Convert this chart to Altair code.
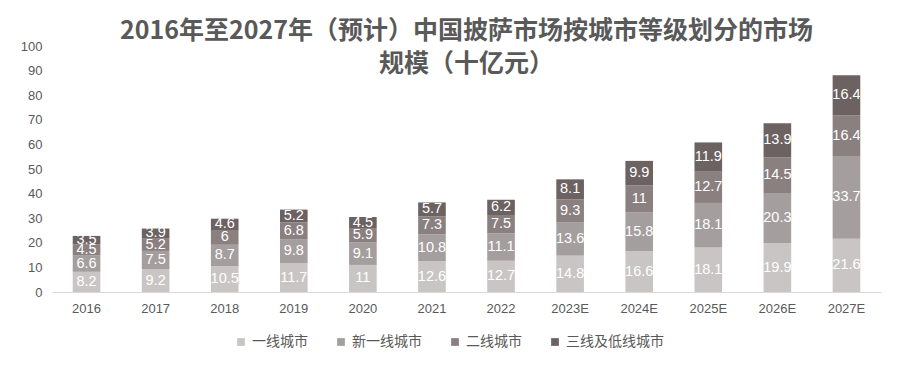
import altair as alt
import pandas as pd

years = ["2016", "2017", "2018", "2019", "2020", "2021", "2022",
         "2023E", "2024E", "2025E", "2026E", "2027E"]
tiers = ["一线城市", "新一线城市", "二线城市", "三线及低线城市"]
tier1 = [8.2, 9.2, 10.5, 11.7, 11, 12.6, 12.7, 14.8, 16.6, 18.1, 19.9, 21.6]
newtier1 = [6.6, 7.5, 8.7, 9.8, 9.1, 10.8, 11.1, 13.6, 15.8, 18.1, 20.3, 33.7]
tier2 = [4.5, 5.2, 6, 6.8, 5.9, 7.3, 7.5, 9.3, 11, 12.7, 14.5, 16.4]
tier3 = [3.5, 3.9, 4.6, 5.2, 4.5, 5.7, 6.2, 8.1, 9.9, 11.9, 13.9, 16.4]
colors = ["#c9c5c5", "#a59e9e", "#8b8080", "#6c6262"]

rows = []
for series, vals in zip(tiers, [tier1, newtier1, tier2, tier3]):
    for y, v in zip(years, vals):
        rows.append({"year": y, "tier": series, "value": v, "ord": tiers.index(series)})
df = pd.DataFrame(rows)

base = alt.Chart(df).transform_stack(
    stack="value", groupby=["year"], as_=["y0", "y1"],
    sort=[alt.SortField("ord", order="ascending")]
).transform_calculate(mid="(datum.y0 + datum.y1) / 2")

yaxis = alt.Axis(values=list(range(0, 101, 10)), grid=False, domain=False,
                 ticks=False, labelFontSize=13, labelColor="#595959",
                 labelFont="Liberation Sans", labelPadding=10,
                 labelOverlap=False)
yscale = alt.Scale(domain=[0, 100])

xenc = alt.X("year:N", sort=years, title=None,
             scale=alt.Scale(paddingInner=0.6, paddingOuter=0.3),
             axis=alt.Axis(labelAngle=0, labelFontSize=13, labelColor="#595959",
                           labelFont="Liberation Sans", domainColor="#d9d9d9",
                           ticks=False, labelPadding=10))

bars = base.mark_bar().encode(
    x=xenc,
    y=alt.Y("y0:Q", title=None, scale=yscale, axis=yaxis),
    y2="y1:Q",
    color=alt.Color("tier:N", sort=tiers,
                    scale=alt.Scale(domain=tiers, range=colors),
                    legend=alt.Legend(title=None, orient="none", direction="horizontal",
                                      legendX=182, legendY=289,
                                      symbolType="square", symbolSize=60,
                                      labelFontSize=14, labelColor="#595959",
                                      labelFont="Noto Sans CJK SC", columnPadding=26,
                                      symbolStrokeWidth=0)),
)

labels = base.mark_text(color="white", fontSize=14.5, font="Liberation Sans").encode(
    x=alt.X("year:N", sort=years),
    y=alt.Y("mid:Q", title=None, scale=yscale, axis=yaxis),
    text=alt.Text("value:Q"),
)

chart = alt.layer(bars, labels).properties(
    width=829, height=246,
    title=alt.TitleParams(
        text=["2016年至2027年（预计）中国披萨市场按城市等级划分的市场", "规模（十亿元）"],
        font="Noto Sans CJK SC", fontSize=25, fontWeight="bold", color="#595959",
        anchor="middle", offset=-37, lineHeight=33,
    ),
    autosize=alt.AutoSizeParams(type="none"),
    padding={"left": 44, "top": 38, "right": 10, "bottom": 70},
).configure_view(stroke=None)

chart.save("out.html", embed_options={"renderer": "svg", "actions": False})
